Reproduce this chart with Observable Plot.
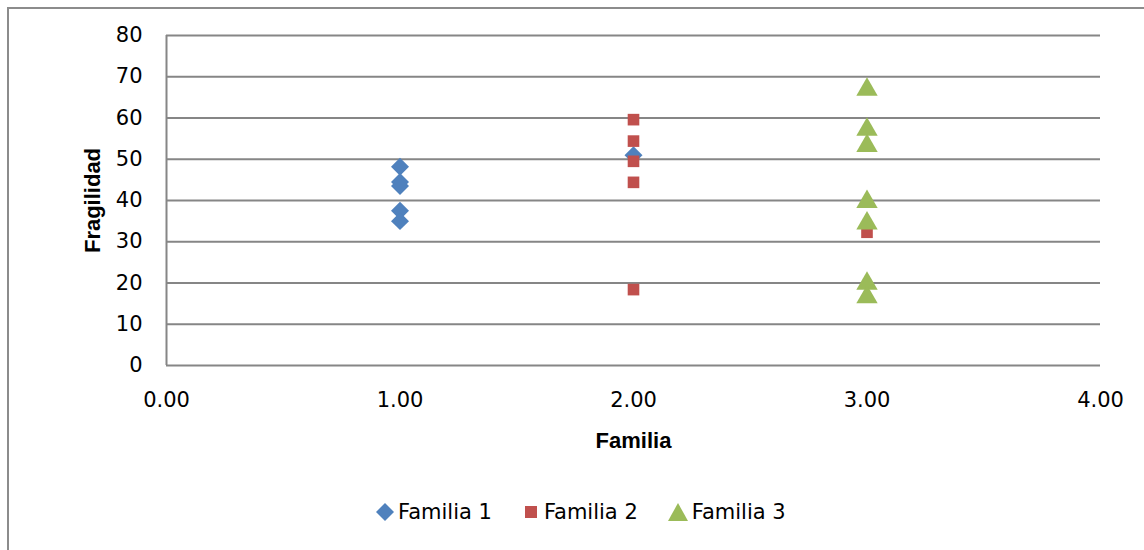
<!DOCTYPE html>
<html>
<head>
<meta charset="utf-8">
<script src="https://cdn.jsdelivr.net/npm/d3@7"></script>
<script src="https://cdn.jsdelivr.net/npm/@observablehq/plot@0.6"></script>
<style>
  html, body { margin: 0; padding: 0; background: #fff; width: 1144px; height: 550px; overflow: hidden; }
  #frame { position: absolute; left: 7px; top: 7px; width: 1145px; height: 560px; border: 2px solid #8c8c8c; box-sizing: border-box; }
  #chart { position: absolute; left: 0; top: 0; }
  #legend { position: absolute; left: 375px; top: 500px; display: flex; align-items: center; font-family: "DejaVu Sans", sans-serif; font-size: 21px; color: #000; }
  .item { display: flex; align-items: center; margin-right: 29px; }
  .item svg { margin-right: 3px; }
</style>
</head>
<body>
<div id="frame"></div>
<div id="chart"></div>
<div id="legend"></div>
<script>
const seriesNames = ["Familia 1", "Familia 2", "Familia 3"];
const seriesColors = ["#4F81BD", "#C0504D", "#9BBB59"];
const fam1X = [1, 1, 1, 1, 1, 2];
const fam1Y = [48.2, 44.5, 43.5, 37.5, 35.0, 51.0];
const fam2X = [2, 2, 2, 2, 2, 3];
const fam2Y = [59.6, 54.4, 49.5, 44.4, 18.4, 32.3];
const fam3X = [3, 3, 3, 3, 3, 3, 3];
const fam3Y = [67.6, 57.9, 54.0, 40.4, 35.2, 20.6, 17.3];
const xTicks = [0, 1, 2, 3, 4];
const yTicks = [0, 10, 20, 30, 40, 50, 60, 70, 80];

const toRows = (xs, ys) => xs.map((x, i) => ({x, y: ys[i]}));
const d1 = toRows(fam1X, fam1Y);
const d2 = toRows(fam2X, fam2Y);
const d3rows = toRows(fam3X, fam3Y);

const chart = Plot.plot({
  width: 1144,
  height: 470,
  marginLeft: 166,
  marginRight: 44,
  marginTop: 35,
  marginBottom: 105,
  style: {fontFamily: "DejaVu Sans, sans-serif", fontSize: "21px", color: "#000", background: "transparent", overflow: "visible"},
  x: {domain: [0, 4]},
  y: {domain: [0, 80]},
  marks: [
    Plot.ruleY(yTicks, {stroke: "#868686", strokeWidth: 2}),
    Plot.ruleX([0], {stroke: "#868686", strokeWidth: 2}),
    Plot.axisY(yTicks, {tickSize: 0, tickPadding: 24, label: null, fontSize: 21}),
    Plot.axisX(xTicks, {tickSize: 0, tickPadding: 27, label: null, tickFormat: d3.format(".2f"), fontSize: 21}),
    Plot.text(["Fragilidad"], {frameAnchor: "left", textAnchor: "middle", lineAnchor: "middle", dx: -74, rotate: -90, fontWeight: "bold", fontSize: 22, fontFamily: "Liberation Sans, sans-serif", fill: "#000"}),
    Plot.text(["Familia"], {frameAnchor: "bottom", textAnchor: "middle", lineAnchor: "middle", dy: 75, fontWeight: "bold", fontSize: 22, fontFamily: "Liberation Sans, sans-serif", fill: "#000"}),
    Plot.dot(d1, {x: "x", y: "y", symbol: "diamond2", r: 8.1, fill: seriesColors[0], stroke: "none"}),
    Plot.dot(d2, {x: "x", y: "y", symbol: "square2", r: 7.4, fill: seriesColors[1], stroke: "none"}),
    Plot.dot(d3rows, {x: "x", y: "y", symbol: "triangle2", r: 10.2, dy: 3, fill: seriesColors[2], stroke: "none"})
  ]
});
document.getElementById("chart").appendChild(chart);

// legend
const shapes = [
  '<svg width="20" height="20" viewBox="-10 -10 20 20"><path d="M0,-9L9,0L0,9L-9,0Z" fill="' + seriesColors[0] + '"/></svg>',
  '<svg width="20" height="20" viewBox="-10 -10 20 20"><rect x="-6" y="-6" width="12" height="12" fill="' + seriesColors[1] + '"/></svg>',
  '<svg width="22" height="20" viewBox="-11 -10 22 20"><path d="M0,-9L10,9L-10,9Z" fill="' + seriesColors[2] + '"/></svg>'
];
const legend = document.getElementById("legend");
seriesNames.forEach((name, i) => {
  const item = document.createElement("div");
  item.className = "item";
  item.innerHTML = shapes[i];
  const span = document.createElement("span");
  span.textContent = name;
  item.appendChild(span);
  legend.appendChild(item);
});
</script>
</body>
</html>
